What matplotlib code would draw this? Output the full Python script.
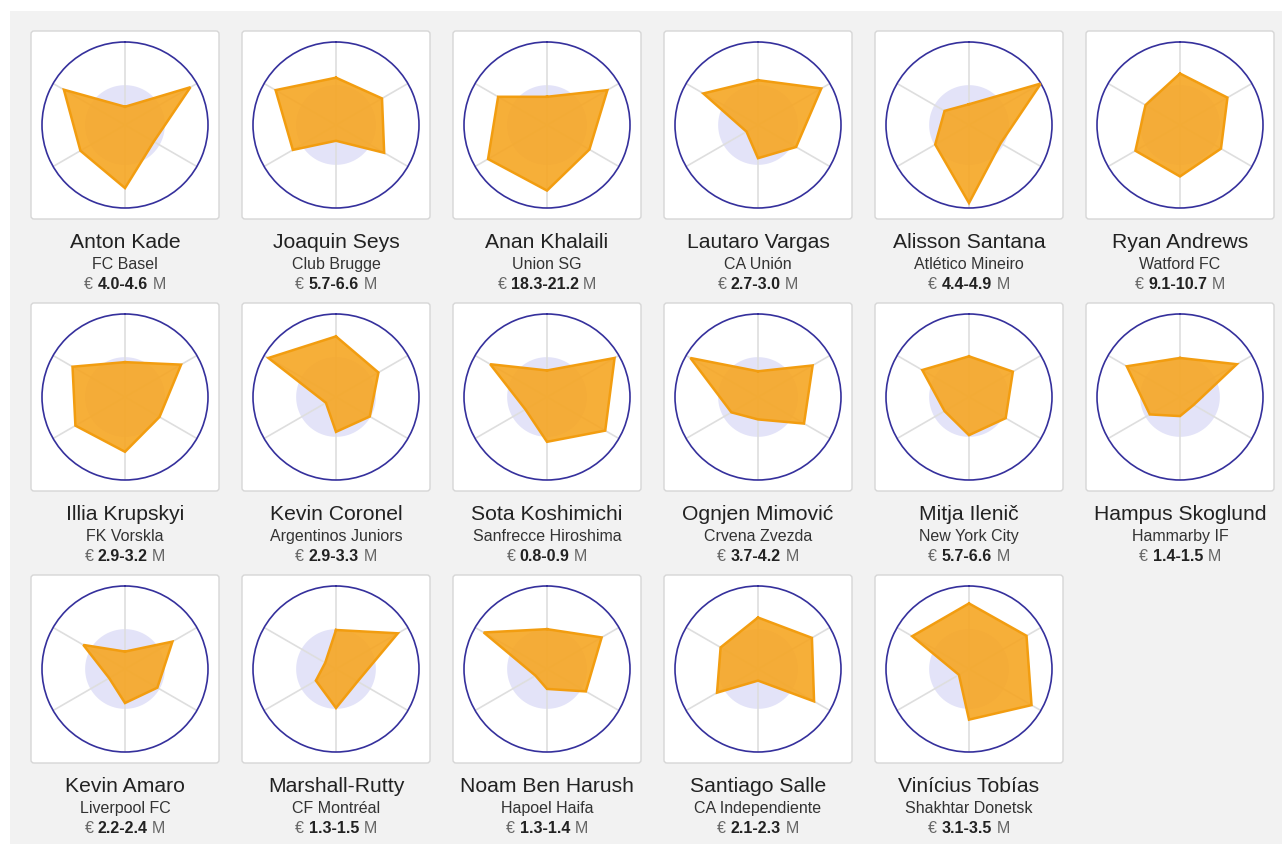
import matplotlib
matplotlib.use("Agg")
import matplotlib.pyplot as plt
import numpy as np
from matplotlib.patches import FancyBboxPatch, Rectangle

# ---------------- data ----------------
names = ["Anton Kade", "Joaquin Seys", "Anan Khalaili", "Lautaro Vargas", "Alisson Santana", "Ryan Andrews",
         "Illia Krupskyi", "Kevin Coronel", "Sota Koshimichi", "Ognjen Mimović", "Mitja Ilenič", "Hampus Skoglund",
         "Kevin Amaro", "Marshall-Rutty", "Noam Ben Harush", "Santiago Salle", "Vinícius Tobías"]
clubs = ["FC Basel", "Club Brugge", "Union SG", "CA Unión", "Atlético Mineiro", "Watford FC",
         "FK Vorskla", "Argentinos Juniors", "Sanfrecce Hiroshima", "Crvena Zvezda", "New York City", "Hammarby IF",
         "Liverpool FC", "CF Montréal", "Hapoel Haifa", "CA Independiente", "Shakhtar Donetsk"]
price_low = ["4.0", "5.7", "18.3", "2.7", "4.4", "9.1",
             "2.9", "2.9", "0.8", "3.7", "5.7", "1.4",
             "2.2", "1.3", "1.3", "2.1", "3.1"]
price_high = ["4.6", "6.6", "21.2", "3.0", "4.9", "10.7",
              "3.2", "3.3", "0.9", "4.2", "6.6", "1.5",
              "2.4", "1.5", "1.4", "2.3", "3.5"]
# six radar axes, clockwise from top (values relative to outer circle)
radar_values = [
    [0.22, 0.91, 0.40, 0.76, 0.62, 0.85],
    [0.57, 0.64, 0.67, 0.19, 0.60, 0.84],
    [0.34, 0.84, 0.59, 0.79, 0.82, 0.68],
    [0.54, 0.88, 0.53, 0.40, 0.16, 0.76],
    [0.25, 1.00, 0.44, 0.94, 0.47, 0.34],
    [0.62, 0.66, 0.57, 0.62, 0.62, 0.48],
    [0.42, 0.78, 0.48, 0.66, 0.69, 0.73],
    [0.73, 0.59, 0.47, 0.42, 0.14, 0.94],
    [0.32, 0.94, 0.81, 0.54, 0.30, 0.79],
    [0.31, 0.76, 0.64, 0.27, 0.37, 0.94],
    [0.49, 0.61, 0.51, 0.46, 0.34, 0.65],
    [0.47, 0.79, 0.19, 0.23, 0.42, 0.74],
    [0.21, 0.66, 0.45, 0.41, 0.22, 0.58],
    [0.47, 0.86, 0.30, 0.47, 0.28, 0.15],
    [0.48, 0.76, 0.54, 0.24, 0.16, 0.88],
    [0.62, 0.75, 0.78, 0.14, 0.57, 0.52],
    [0.79, 0.80, 0.87, 0.61, 0.14, 0.79],
]
average_level = 0.48

# ---------------- layout / style ----------------
W, H = 1282, 845
NCOLS = 6
BOX_X0, BOX_Y0 = 31, 32
STEP_X, STEP_Y = 211, 272
BOX = 188
R = 83

FONT = "Liberation Sans"
fig = plt.figure(figsize=(W / 100, H / 100), dpi=100)
fig.patch.set_facecolor("white")

bg = fig.add_axes([0, 0, 1, 1])
bg.set_xlim(0, W)
bg.set_ylim(H, 0)
bg.axis("off")
bg.add_patch(Rectangle((10, 12), W - 10, H - 12, facecolor="#f2f2f2", edgecolor="none", zorder=0))

fig.canvas.draw()
renderer = fig.canvas.get_renderer()

angles = np.deg2rad(np.arange(0, 360, 60))
circle_t = np.linspace(0, 2 * np.pi, 300)

for i, name in enumerate(names):
    row, col = divmod(i, NCOLS)
    bx = BOX_X0 + STEP_X * col
    by = BOX_Y0 + STEP_Y * row
    bg.add_patch(FancyBboxPatch((bx, by), BOX, BOX, boxstyle="round,pad=0,rounding_size=3",
                                facecolor="white", edgecolor="#d6d6d6", linewidth=1.0, zorder=1))
    cx = bx + BOX / 2
    cy = by + BOX / 2

    ax = fig.add_axes([(cx - R) / W, 1 - (cy + R) / H, 2 * R / W, 2 * R / H], projection="polar")
    ax.set_theta_zero_location("N")
    ax.set_theta_direction(-1)
    ax.set_ylim(0, 1)
    ax.set_xticks([])
    ax.set_yticks([])
    ax.grid(False)
    ax.set_facecolor("white")
    ax.spines["polar"].set_color("#35309c")
    ax.spines["polar"].set_linewidth(1.2)

    ax.fill(circle_t, np.full_like(circle_t, average_level), color="#e3e3f8", zorder=1, linewidth=0)
    for a in angles:
        ax.plot([a, a], [0, 1], color="#dedede", linewidth=1.2, zorder=2)

    vals = radar_values[i]
    th = np.append(angles, angles[0])
    rv = np.append(vals, vals[0])
    ax.fill(th, rv, facecolor="#f6a623", alpha=0.9, zorder=3, linewidth=0)
    ax.plot(th, rv, color="#f29d10", linewidth=1.8, zorder=4, solid_joinstyle="miter")

    # texts
    tx = cx
    bg.text(tx, by + BOX + 28, name, ha="center", va="baseline", fontsize=15.2,
            family=FONT, color="#222222", zorder=5)
    bg.text(tx, by + BOX + 49, clubs[i], ha="center", va="baseline", fontsize=11.5,
            family=FONT, color="#333333", zorder=5)

    yb = by + BOX + 69
    parts = [("€", "normal", "#666666"),
             (f"{price_low[i]}-{price_high[i]}", "bold", "#222222"),
             ("M", "normal", "#666666")]
    objs = []
    widths = []
    for s, wgt, c in parts:
        t = bg.text(0, yb, s, ha="left", va="baseline", fontsize=11.5, family=FONT,
                    fontweight=wgt, color=c, zorder=5)
        objs.append(t)
        widths.append(t.get_window_extent(renderer).width)
    gap = 4.4
    total = sum(widths) + 2 * gap
    x0 = tx - total / 2
    for t, w in zip(objs, widths):
        t.set_x(x0)
        x0 += w + gap

fig.savefig("out.png", dpi=100)
